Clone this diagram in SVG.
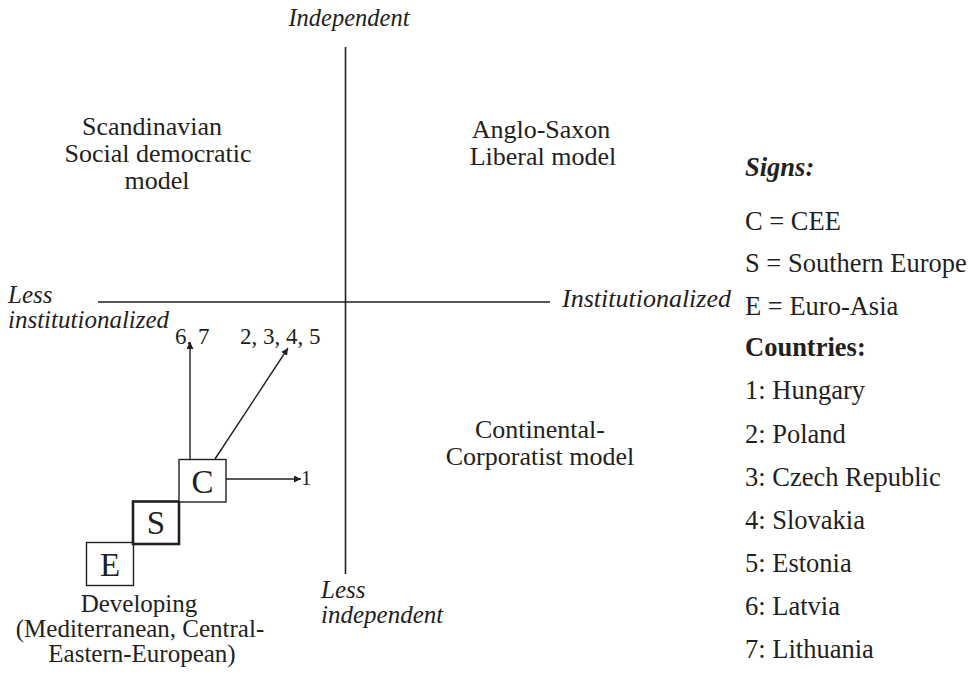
<svg xmlns="http://www.w3.org/2000/svg" width="974" height="675" viewBox="0 0 974 675">
<style>
text{font-family:"Liberation Serif","Times New Roman",serif;fill:#231f20}
.lbl{font-size:26px;text-anchor:middle}
.dev{font-size:25px;text-anchor:middle}
.it{font-style:italic;font-size:25px}
.leg{font-size:26.5px}
.legb{font-size:26.5px;font-weight:bold}
.num{font-size:23px}
.box{fill:#fff;stroke:#231f20;stroke-width:1.4}
.boxb{fill:#fff;stroke:#231f20;stroke-width:2.6}
.letter{font-size:33px;text-anchor:middle}
.axis{stroke:#231f20;stroke-width:1.6;fill:none}
.arr{stroke:#231f20;stroke-width:1.4;fill:none;marker-end:url(#ah)}
</style>
<defs>
<marker id="ah" viewBox="0 0 10 10" refX="10" refY="5" markerWidth="7" markerHeight="7" markerUnits="userSpaceOnUse" orient="auto">
<path d="M0,0 L10,5 L0,10 z" fill="#231f20"/>
</marker>
</defs>
<rect width="974" height="675" fill="#fff"/>
<g id="axes">
<line class="axis" x1="345.5" y1="47" x2="345.5" y2="574"/>
<line class="axis" x1="98" y1="302" x2="550" y2="302"/>
<text class="it" x="349" y="26" text-anchor="middle" style="font-size:24.5px">Independent</text>
<text class="it"><tspan x="8" y="303">Less</tspan><tspan x="8" y="328">institutionalized</tspan></text>
<text class="it" x="562" y="307" style="font-size:26px">Institutionalized</text>
<text class="it"><tspan x="321" y="598">Less</tspan><tspan x="321" y="623">independent</tspan></text>
</g>
<g id="scandinavian">
<text class="lbl"><tspan x="152" y="135">Scandinavian</tspan><tspan x="158" y="162">Social democratic</tspan><tspan x="157" y="189">model</tspan></text>
</g>
<g id="anglo-saxon">
<text class="lbl"><tspan x="541" y="138">Anglo-Saxon</tspan><tspan x="543" y="165">Liberal model</tspan></text>
</g>
<g id="continental">
<text class="lbl"><tspan x="540" y="438">Continental-</tspan><tspan x="540" y="465">Corporatist model</tspan></text>
</g>
<g id="developing">
<text class="dev"><tspan x="139" y="612">Developing</tspan><tspan x="140" y="637">(Mediterranean, Central-</tspan><tspan x="142" y="662">Eastern-European)</tspan></text>
</g>
<g id="box-e">
<rect class="box" x="86.5" y="542.5" width="47" height="43"/>
<text class="letter" x="110" y="576">E</text>
</g>
<g id="box-s">
<rect class="boxb" x="133" y="501.5" width="46" height="42.5"/>
<text class="letter" x="156" y="534">S</text>
</g>
<g id="box-c">
<rect class="box" x="179" y="459.5" width="47" height="42.5"/>
<text class="letter" x="202.5" y="493">C</text>
</g>
<g id="connectors">
<line class="arr" x1="190" y1="459" x2="190" y2="342"/>
<line class="arr" x1="215" y1="459" x2="288" y2="348"/>
<line class="arr" x1="226" y1="479" x2="301" y2="479"/>
</g>
<g id="arrow-labels">
<text class="num" x="175" y="344">6, 7</text>
<text class="num" x="240" y="344">2, 3, 4, 5</text>
<text class="num" x="301" y="485" style="font-size:21px">1</text>
</g>
<g id="legend">
<text class="legb" x="745" y="176" font-style="italic">Signs:</text>
<text class="leg" x="745" y="230">C = CEE</text>
<text class="leg" x="745" y="272">S = Southern Europe</text>
<text class="leg" x="745" y="315">E = Euro-Asia</text>
<text class="legb" x="745" y="356">Countries:</text>
<text class="leg" x="745" y="399">1: Hungary</text>
<text class="leg" x="745" y="443">2: Poland</text>
<text class="leg" x="745" y="486">3: Czech Republic</text>
<text class="leg" x="745" y="529">4: Slovakia</text>
<text class="leg" x="745" y="572">5: Estonia</text>
<text class="leg" x="745" y="615">6: Latvia</text>
<text class="leg" x="745" y="658">7: Lithuania</text>
</g>
</svg>
